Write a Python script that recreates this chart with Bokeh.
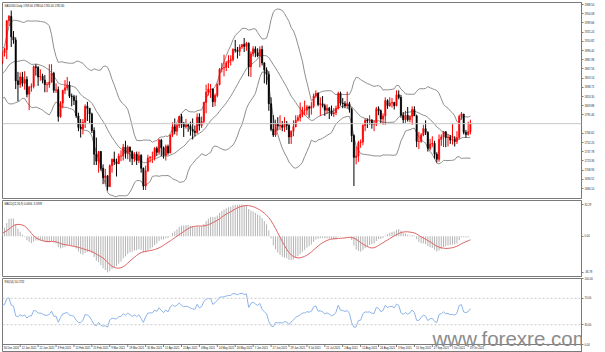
import numpy as np
from bokeh.plotting import figure
from bokeh.layouts import column
from bokeh.models import (Range1d, FixedTicker, Label, Span, ColumnDataSource,
                          PrintfTickFormatter)
from bokeh.core.properties import value
from bokeh.embed import file_html
from bokeh.resources import INLINE

SYMBOL = "XAUUSD,Daily"

# Daily bars, 26 Oct 2020 .. 20 Oct 2021 (bars before 30 Dec 2020 only feed the indicators)
opens = [
    1902, 1902, 1908, 1878, 1867,  1878, 1895, 1909, 1903, 1949,
    1951, 1862, 1877, 1866, 1873,  1888, 1888, 1880, 1872, 1866,
    1871, 1837, 1806, 1811, 1811,  1788, 1777, 1815, 1831, 1841,
    1839, 1863, 1870, 1838, 1837,  1840, 1827, 1855, 1864, 1886,
    1881, 1871, 1858, 1872,        1880, 1876, 1877, 1893,
    1898, 1943, 1950, 1918, 1913,  1849, 1843, 1855, 1845, 1851,
    1828, 1839, 1840, 1871, 1870,  1855, 1856, 1850, 1843, 1843,
    1847, 1861, 1834, 1835, 1793,  1814, 1834, 1838, 1842, 1825,
    1824, 1818, 1794, 1776, 1774,  1784, 1809, 1806, 1797, 1771,
    1734, 1723, 1738, 1712, 1697,  1700, 1683, 1716, 1726, 1722,
    1719, 1731, 1731, 1745, 1735,  1745, 1738, 1727, 1734, 1725,
    1732, 1712, 1684, 1708, 1728,  1729, 1729, 1743, 1737, 1756,
    1744, 1732, 1746, 1736, 1764,  1777, 1770, 1779, 1793, 1783,
    1777, 1780, 1778, 1773, 1770,  1768, 1792, 1779, 1785, 1815,
    1831, 1836, 1836, 1816, 1826,  1843, 1867, 1869, 1870, 1877,
    1881, 1882, 1898, 1897, 1895,  1902, 1906, 1903, 1908, 1871,
    1891, 1899, 1893, 1888, 1898,  1877, 1866, 1859, 1813, 1773,
    1764, 1782, 1778, 1779, 1776,  1781, 1779, 1761, 1770, 1777,
    1787, 1791, 1796, 1803, 1803,  1808, 1806, 1809, 1825, 1829,
    1812, 1813, 1810, 1803, 1806,  1802, 1797, 1799, 1806, 1829,
    1814, 1813, 1810, 1813, 1804,  1763, 1729, 1731, 1752, 1753,
    1779, 1787, 1786, 1787, 1781,  1781, 1805, 1802, 1789, 1794,
    1818, 1810, 1814, 1815, 1810,  1827, 1823, 1795, 1788, 1795,
    1788, 1793, 1804, 1794, 1754,  1754, 1764, 1774, 1768, 1743,
    1750, 1751, 1734, 1726, 1757,  1761, 1769, 1760, 1761, 1756,
    1757, 1754, 1760, 1793, 1797,  1768, 1765, 1769,
]
highs = [
    1911, 1912, 1910, 1880, 1883,  1897, 1911, 1924, 1951, 1960,
    1965, 1884, 1881, 1880, 1892,  1899, 1893, 1884, 1874, 1879,
    1875, 1839, 1819, 1816, 1818,  1793, 1817, 1833, 1846, 1848,
    1865, 1875, 1875, 1848, 1843,  1846, 1857, 1867, 1891, 1889,
    1907, 1877, 1876, 1884,        1893, 1887, 1896, 1901,
    1944, 1952, 1959, 1927, 1917,  1863, 1862, 1863, 1864, 1856,
    1841, 1845, 1873, 1875, 1872,  1867, 1860, 1858, 1847, 1875,
    1875, 1863, 1845, 1840, 1817,  1835, 1850, 1855, 1848, 1829,
    1827, 1826, 1799, 1789, 1789,  1812, 1816, 1806, 1799, 1776,
    1760, 1739, 1739, 1718, 1711,  1701, 1718, 1727, 1738, 1727,
    1735, 1740, 1750, 1755, 1748,  1746, 1740, 1737, 1738, 1738,
    1734, 1713, 1716, 1733, 1731,  1738, 1745, 1746, 1758, 1758,
    1746, 1749, 1749, 1765, 1784,  1790, 1782, 1794, 1797, 1784,
    1789, 1782, 1785, 1790, 1779,  1798, 1798, 1793, 1816, 1843,
    1845, 1844, 1837, 1829, 1845,  1869, 1877, 1890, 1880, 1889,
    1889, 1900, 1913, 1902, 1906,  1906, 1916, 1910, 1909, 1895,
    1903, 1903, 1900, 1903, 1904,  1878, 1870, 1864, 1823, 1795,
    1788, 1792, 1795, 1786, 1792,  1786, 1781, 1771, 1787, 1795,
    1795, 1815, 1808, 1818, 1811,  1810, 1816, 1829, 1834, 1831,
    1823, 1825, 1813, 1812, 1808,  1810, 1806, 1810, 1832, 1832,
    1822, 1817, 1832, 1816, 1807,  1765, 1746, 1755, 1757, 1781,
    1790, 1790, 1795, 1789, 1787,  1808, 1809, 1804, 1798, 1823,
    1820, 1823, 1822, 1816, 1834,  1834, 1827, 1800, 1802, 1808,
    1795, 1809, 1809, 1796, 1769,  1767, 1780, 1787, 1770, 1758,
    1762, 1755, 1737, 1765, 1765,  1770, 1770, 1765, 1764, 1781,
    1762, 1770, 1796, 1800, 1797,  1772, 1785, 1788,
]
lows = [
    1895, 1899, 1872, 1859, 1860,  1873, 1888, 1884, 1901, 1935,
    1850, 1851, 1860, 1862, 1870,  1866, 1875, 1866, 1855, 1860,
    1831, 1800, 1800, 1805, 1775,  1764, 1774, 1803, 1827, 1826,
    1833, 1853, 1825, 1824, 1825,  1820, 1824, 1848, 1862, 1872,
    1856, 1855, 1858, 1868,        1872, 1871, 1875, 1887,
    1883, 1935, 1902, 1907, 1836,  1817, 1838, 1840, 1835, 1823,
    1803, 1832, 1837, 1857, 1841,  1849, 1845, 1831, 1831, 1838,
    1846, 1830, 1830, 1785, 1791,  1806, 1828, 1834, 1822, 1809,
    1811, 1791, 1770, 1760, 1765,  1775, 1786, 1783, 1767, 1717,
    1717, 1705, 1708, 1687, 1687,  1677, 1683, 1705, 1717, 1699,
    1719, 1723, 1724, 1727, 1726,  1722, 1717, 1722, 1717, 1720,
    1705, 1678, 1678, 1706, 1721,  1720, 1724, 1731, 1733, 1731,
    1727, 1724, 1733, 1735, 1761,  1765, 1763, 1775, 1775, 1761,
    1774, 1769, 1763, 1757, 1762,  1766, 1771, 1775, 1782, 1798,
    1826, 1822, 1808, 1809, 1823,  1842, 1862, 1856, 1864, 1869,
    1873, 1879, 1893, 1884, 1888,  1899, 1894, 1896, 1856, 1855,
    1887, 1886, 1886, 1870, 1873,  1845, 1843, 1802, 1770, 1761,
    1761, 1771, 1772, 1770, 1769,  1772, 1750, 1750, 1762, 1776,
    1785, 1785, 1792, 1795, 1795,  1791, 1796, 1806, 1822, 1809,
    1794, 1807, 1794, 1797, 1789,  1794, 1792, 1795, 1804, 1810,
    1806, 1806, 1805, 1799, 1753,  1684, 1718, 1722, 1744, 1748,
    1770, 1775, 1780, 1774, 1770,  1778, 1795, 1782, 1780, 1780,
    1805, 1808, 1807, 1804, 1809,  1820, 1791, 1782, 1783, 1785,
    1784, 1780, 1795, 1745, 1742,  1752, 1762, 1764, 1738, 1740,
    1745, 1727, 1721, 1722, 1747,  1745, 1745, 1746, 1750, 1749,
    1746, 1750, 1757, 1788, 1765,  1760, 1763, 1765,
]
closes = [
    1902, 1908, 1878, 1867, 1878,  1895, 1909, 1903, 1949, 1951,
    1862, 1877, 1866, 1873, 1888,  1888, 1880, 1872, 1866, 1871,
    1837, 1806, 1811, 1811, 1788,  1777, 1815, 1831, 1841, 1839,
    1863, 1870, 1838, 1837, 1840,  1827, 1855, 1864, 1886, 1881,
    1871, 1858, 1872, 1876,        1876, 1877, 1893, 1898,
    1943, 1950, 1918, 1913, 1849,  1843, 1855, 1845, 1851, 1828,
    1839, 1840, 1871, 1870, 1855,  1856, 1850, 1843, 1843, 1847,
    1861, 1834, 1835, 1793, 1814,  1834, 1838, 1842, 1825, 1824,
    1818, 1794, 1776, 1774, 1784,  1809, 1806, 1797, 1771, 1734,
    1723, 1738, 1712, 1697, 1700,  1683, 1716, 1726, 1722, 1719,
    1731, 1731, 1745, 1735, 1745,  1738, 1727, 1734, 1725, 1732,
    1712, 1684, 1708, 1728, 1729,  1729, 1743, 1737, 1756, 1744,
    1732, 1746, 1736, 1764, 1777,  1770, 1779, 1793, 1783, 1777,
    1780, 1778, 1773, 1770, 1768,  1792, 1779, 1785, 1815, 1831,
    1836, 1836, 1816, 1826, 1843,  1867, 1869, 1870, 1877, 1881,
    1882, 1898, 1897, 1895, 1902,  1906, 1903, 1908, 1871, 1891,
    1899, 1893, 1888, 1898, 1877,  1866, 1859, 1813, 1773, 1764,
    1782, 1778, 1779, 1776, 1781,  1779, 1761, 1770, 1777, 1787,
    1791, 1796, 1803, 1803, 1808,  1806, 1809, 1825, 1829, 1812,
    1813, 1810, 1803, 1806, 1802,  1797, 1799, 1806, 1829, 1814,
    1813, 1810, 1813, 1804, 1763,  1729, 1731, 1752, 1753, 1779,
    1787, 1786, 1787, 1781, 1781,  1805, 1802, 1789, 1794, 1818,
    1810, 1814, 1815, 1810, 1827,  1823, 1795, 1788, 1795, 1788,
    1793, 1804, 1794, 1754, 1754,  1764, 1774, 1768, 1743, 1750,
    1751, 1734, 1726, 1757, 1761,  1769, 1760, 1761, 1756, 1757,
    1754, 1760, 1793, 1797, 1768,  1765, 1769, 1781.8,
]

price_ticks = [1968.50, 1954.08, 1939.66, 1925.24, 1910.82, 1896.40, 1881.98,
               1867.56, 1853.14, 1838.72, 1824.30, 1809.88, 1795.46,
               1766.62, 1752.20, 1737.78, 1723.36, 1708.94, 1694.52, 1680.10]
date_tick_bars = [46, 54, 62, 70, 78, 86, 94, 102, 110, 118, 126, 134, 142, 150,
                  158, 166, 174, 182, 190, 198, 206, 214, 222, 230, 238, 246, 254]
date_tick_labels = ["30 Dec 2020", "12 Jan 2021", "22 Jan 2021", "3 Feb 2021",
                    "15 Feb 2021", "25 Feb 2021", "9 Mar 2021", "19 Mar 2021",
                    "31 Mar 2021", "12 Apr 2021", "22 Apr 2021", "4 May 2021",
                    "14 May 2021", "26 May 2021", "7 Jun 2021", "17 Jun 2021",
                    "29 Jun 2021", "9 Jul 2021", "21 Jul 2021", "2 Aug 2021",
                    "12 Aug 2021", "24 Aug 2021", "3 Sep 2021", "15 Sep 2021",
                    "27 Sep 2021", "7 Oct 2021", "19 Oct 2021"]
rsi_ticks = [0, 30, 70, 100]
rsi_levels = [30, 70]
WATERMARK = "www.forexre.com"

FONT = "Liberation Sans"
SMALL = "2.7px"
UP, DOWN = "#ff0000", "#000000"
FRAME = "#7a7a7a"

n = len(closes)
o = np.array(opens, float); h = np.array(highs, float)
l = np.array(lows, float); c = np.array(closes, float)
xs = np.arange(n)
FIRST = 46

# ---- indicators ----
bb_mid = np.full(n, np.nan); bb_up = np.full(n, np.nan); bb_dn = np.full(n, np.nan)
for i in range(19, n):
    w = c[i - 19:i + 1]
    m, s = w.mean(), w.std()
    bb_mid[i], bb_up[i], bb_dn[i] = m, m + 2 * s, m - 2 * s

def ema(a, period):
    k = 2.0 / (period + 1)
    out = np.empty_like(a); out[0] = a[0]
    for i in range(1, len(a)):
        out[i] = a[i] * k + out[i - 1] * (1 - k)
    return out

macd = ema(c, 12) - ema(c, 26)
sig = np.full(n, np.nan)
for i in range(8, n):
    sig[i] = macd[i - 8:i + 1].mean()

d = np.diff(c)
gain = np.where(d > 0, d, 0.0); loss = np.where(d < 0, -d, 0.0)
rsi = np.full(n, np.nan)
ag, al = gain[:14].mean(), loss[:14].mean()
rsi[14] = 100 - 100 / (1 + ag / al)
for i in range(15, n):
    ag = (ag * 13 + gain[i - 1]) / 14
    al = (al * 13 + loss[i - 1]) / 14
    rsi[i] = 100.0 if al == 0 else 100 - 100 / (1 + ag / al)

xr = Range1d(46.1, 304.6)

def make(height, yr, top, bottom):
    p = figure(width=605, height=height, x_range=xr, y_range=yr,
               y_axis_location="right", x_axis_location=None,
               toolbar_location=None, output_backend="svg",
               min_border_left=2, min_border_right=24,
               min_border_top=top, min_border_bottom=bottom)
    p.grid.visible = False
    p.outline_line_color = FRAME
    p.background_fill_color = "white"
    p.border_fill_color = "white"
    ax = p.yaxis[0]
    ax.axis_line_color = FRAME
    ax.major_tick_line_color = FRAME
    ax.major_tick_out = 2; ax.major_tick_in = 0
    ax.minor_tick_line_color = None
    ax.major_label_text_font = FONT
    ax.major_label_text_font_size = SMALL
    ax.major_label_text_color = "#222222"
    ax.major_label_standoff = 1
    return p

def small_label(p, x, y, text, **kw):
    p.add_layout(Label(x=x, y=y, text=text, text_font=FONT, text_font_size=SMALL,
                       text_color=kw.pop("text_color", "#111111"), **kw))

# ---- main price panel ----
yr1 = Range1d(1664.5, 1971.7)
p1 = make(199, yr1, 2, 1)
p1.yaxis[0].ticker = FixedTicker(ticks=price_ticks)
p1.yaxis[0].formatter = PrintfTickFormatter(format="%.2f")

vis = slice(FIRST - 2, n)
src = ColumnDataSource(dict(
    x=xs[vis], h=h[vis], l=l[vis],
    top=np.maximum(o, c)[vis], bot=np.minimum(o, c)[vis],
    col=[UP if cc >= oo else DOWN for oo, cc in zip(o[vis], c[vis])]))
bsrc = ColumnDataSource(dict(x=xs[vis], up=bb_up[vis], mid=bb_mid[vis], dn=bb_dn[vis]))
for k in ("up", "mid", "dn"):
    p1.line("x", k, source=bsrc, line_color="#8e8e8e", line_width=1)
p1.add_layout(Span(location=closes[-1], dimension="width",
                   line_color="#c8c8c8", line_width=1))
p1.segment(x0="x", y0="h", x1="x", y1="l", source=src, line_color="col", line_width=1)
p1.vbar(x="x", width=0.55, top="top", bottom="bot", source=src,
        fill_color="col", line_color="col", line_width=0.6)
small_label(p1, xr.start, yr1.end,
            "%s  %.2f %.2f %.2f %.2f" % (SYMBOL, opens[-1], highs[-1], lows[-1], closes[-1]),
            x_offset=2, y_offset=-2, text_baseline="top")
small_label(p1, xr.end, closes[-1], "%.2f" % closes[-1], x_offset=2,
            text_color="white", background_fill_color="black",
            text_baseline="middle", text_align="left", padding=(1, 5))

# ---- MACD panel ----
mv = slice(FIRST, n)
mx = max(np.nanmax(macd[mv]), np.nanmax(sig[mv]))
mn = min(np.nanmin(macd[mv]), np.nanmin(sig[mv]))
pad = (mx - mn) * 0.06
yr2 = Range1d(mn - pad, mx + pad)
p2 = make(78, yr2, 1, 1)
p2.yaxis[0].ticker = FixedTicker(ticks=[round(mx, 2), 0.0, round(mn, 2)])
p2.yaxis[0].formatter = PrintfTickFormatter(format="%.2f")
msrc = ColumnDataSource(dict(x=xs[vis], m=macd[vis], s=sig[vis], z=np.zeros(n)[vis]))
p2.segment(x0="x", y0="z", x1="x", y1="m", source=msrc, line_color="#b3b3b3", line_width=1)
p2.line("x", "s", source=msrc, line_color="#e06464", line_width=1)
small_label(p2, xr.start, yr2.end, "MACD(12,26,9) %.4f %.4f" % (macd[-1], sig[-1]),
            x_offset=2, y_offset=-2, text_baseline="top")

# ---- RSI panel (its frame also holds the date strip below RSI = 0) ----
RSI_PX = 0.66            # pixels per RSI unit
STRIP = 8 / RSI_PX       # date strip height in RSI units
yr3 = Range1d(-STRIP, 100)
p3 = make(75, yr3, 1, 0)
p3.yaxis[0].ticker = FixedTicker(ticks=rsi_ticks)
p3.yaxis[0].formatter = PrintfTickFormatter(format="%.2f")
for lv in rsi_levels:
    p3.add_layout(Span(location=lv, dimension="width", line_color="#c8c8c8",
                       line_width=1, line_dash="2 2"))
p3.add_layout(Span(location=0, dimension="width", line_color=FRAME, line_width=1))
rsrc = ColumnDataSource(dict(x=xs[vis], r=rsi[vis]))
p3.line("x", "r", source=rsrc, line_color="#8db4e8", line_width=1)

dsrc = ColumnDataSource(dict(x=date_tick_bars, t=date_tick_labels,
                             y0=[0.0] * len(date_tick_bars),
                             y1=[-2.5 / RSI_PX] * len(date_tick_bars),
                             yt=[-2.2 / RSI_PX] * len(date_tick_bars)))
p3.segment(x0="x", y0="y0", x1="x", y1="y1", source=dsrc, line_color=FRAME, line_width=1)
p3.text(x="x", y="yt", text="t", source=dsrc, x_offset=1.5,
        text_font=value(FONT), text_font_size=value(SMALL), text_color="#111111",
        text_baseline="top", text_align="left")

small_label(p3, xr.start, yr3.end, "RSI(14) %.4f" % rsi[-1],
            x_offset=2, y_offset=-2, text_baseline="top")
p3.add_layout(Label(x=238.1, y=1.5 + 5 / RSI_PX, text=WATERMARK, text_font=FONT,
                    text_font_size="20.5px", text_color="#8c8c8c",
                    text_baseline="alphabetic", text_align="left"))

layout = column(p1, p2, p3, spacing=0)
open("out.html", "w").write(file_html(layout, INLINE))
